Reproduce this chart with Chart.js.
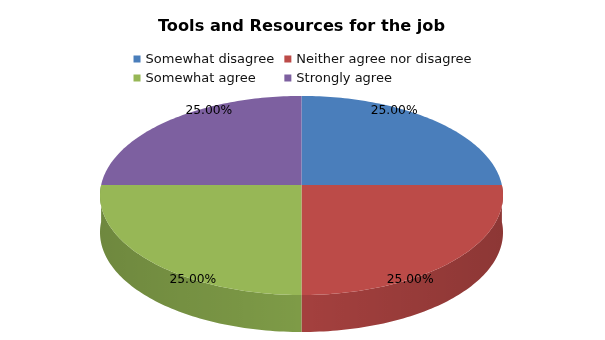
<!DOCTYPE html>
<html>
<head>
<meta charset="utf-8">
<script src="https://cdn.jsdelivr.net/npm/chart.js@4.4.1/dist/chart.umd.min.js"></script>
<style>
  html, body { margin: 0; padding: 0; background: #fff; }
  #wrap { width: 605px; height: 340px; }
</style>
</head>
<body>
<div id="wrap"><canvas id="chart"></canvas></div>
<script>
const chartTitle = 'Tools and Resources for the job';
const categories = ['Somewhat disagree', 'Neither agree nor disagree', 'Somewhat agree', 'Strongly agree'];
const responses = [1, 1, 1, 1];
const topColors = ['#4a7ebb', '#bc4b48', '#97b756', '#7d60a0'];
const sideColors = ['#3c6a9e', '#a4403e', '#7e9b47', '#674f86'];

const FONT = '"DejaVu Sans", Verdana, sans-serif';
const DEPTH = 37;       // thickness of the pie
const PERSP = 0.1055;   // front of the pie looks bigger than the back

// projection of the flat pie onto the page
function geom(chart) {
  const a = chart.chartArea;
  const cx = (a.left + a.right) / 2;
  const rx = (a.right - a.left) / 2 / Math.sqrt(1 / (1 - PERSP * PERSP));
  const h = a.bottom - DEPTH - a.top;
  const ay = h * (1 - PERSP * PERSP) / 2;
  const cy = a.top + ay / (1 + PERSP);
  return {
    cx, cy, rx, ay,
    pt(ang, k) {
      const u = k * Math.cos(ang), v = k * Math.sin(ang);
      const w = 1 / (1 - PERSP * v);
      return [cx + rx * u * w, cy + ay * v * w];
    }
  };
}

function arcPoints(g, a0, a1) {
  const pts = [];
  const n = Math.max(2, Math.ceil((a1 - a0) / 0.02));
  for (let i = 0; i <= n; i++) pts.push(g.pt(a0 + (a1 - a0) * i / n, 1));
  return pts;
}

const pie3d = {
  id: 'pie3d',
  beforeDatasetsDraw(chart) {
    const ctx = chart.ctx;
    const g = geom(chart);
    const arcs = chart.getDatasetMeta(0).data;

    // side walls (front half only)
    arcs.forEach((arc, i) => {
      const { startAngle, endAngle } = arc.getProps(['startAngle', 'endAngle'], true);
      [[0, Math.PI], [2 * Math.PI, 3 * Math.PI]].forEach(([lo, hi]) => {
        const a0 = Math.max(startAngle, lo), a1 = Math.min(endAngle, hi);
        if (a1 <= a0) return;
        const pts = arcPoints(g, a0, a1);
        ctx.beginPath();
        pts.forEach((p, j) => j ? ctx.lineTo(p[0], p[1]) : ctx.moveTo(p[0], p[1]));
        for (let j = pts.length - 1; j >= 0; j--) ctx.lineTo(pts[j][0], pts[j][1] + DEPTH);
        ctx.closePath();
        ctx.fillStyle = sideColors[i];
        ctx.fill();
        const grad = ctx.createLinearGradient(g.cx - g.rx, 0, g.cx + g.rx, 0);
        grad.addColorStop(0, 'rgba(0,0,0,0.12)');
        grad.addColorStop(0.5, 'rgba(0,0,0,0)');
        grad.addColorStop(1, 'rgba(0,0,0,0.14)');
        ctx.fillStyle = grad;
        ctx.fill();
      });
    });

    // top faces
    arcs.forEach((arc, i) => {
      const { startAngle, endAngle } = arc.getProps(['startAngle', 'endAngle'], true);
      const pts = arcPoints(g, startAngle, endAngle);
      const c = g.pt(0, 0);
      ctx.beginPath();
      ctx.moveTo(c[0], c[1]);
      pts.forEach(p => ctx.lineTo(p[0], p[1]));
      ctx.closePath();
      ctx.fillStyle = topColors[i];
      ctx.fill();
    });
    return false;
  },
  afterDraw(chart) {
    const ctx = chart.ctx;
    const g = geom(chart);
    const arcs = chart.getDatasetMeta(0).data;
    const total = responses.reduce((s, v) => s + v, 0);

    // percentage labels
    ctx.save();
    ctx.font = '12.3px ' + FONT;
    ctx.fillStyle = '#000';
    ctx.textAlign = 'center';
    ctx.textBaseline = 'middle';
    arcs.forEach((arc, i) => {
      const { startAngle, endAngle } = arc.getProps(['startAngle', 'endAngle'], true);
      const mid = (startAngle + endAngle) / 2;
      const front = Math.sin(mid) > 0;
      const x = g.cx + Math.cos(mid) * g.rx * (front ? 0.767 : 0.654);
      const y = g.cy + Math.sin(mid) * g.ay * (front ? 1.35 : 1.08);
      ctx.fillText((responses[i] / total * 100).toFixed(2) + '%', x, y + 0.5);
    });
    ctx.restore();

    // two column legend
    ctx.save();
    ctx.font = '13px ' + FONT;
    ctx.textBaseline = 'middle';
    const box = 7, gap = 5, colGap = 10;
    const tw = t => ctx.measureText(t).width;
    const col1 = box + gap + Math.max(tw(categories[0]), tw(categories[2]));
    const col2 = box + gap + Math.max(tw(categories[1]), tw(categories[3]));
    const x0 = (chart.width - (col1 + colGap + col2)) / 2;
    const rows = [59, 78];
    categories.forEach((label, i) => {
      const x = x0 + (i % 2 ? col1 + colGap : 0);
      const y = rows[Math.floor(i / 2)];
      ctx.fillStyle = topColors[i];
      ctx.fillRect(x, y - box / 2, box, box);
      ctx.fillStyle = '#111';
      ctx.fillText(label, x + box + gap, y + 0.5);
    });
    ctx.restore();
  }
};

new Chart(document.getElementById('chart'), {
  type: 'pie',
  data: {
    labels: categories,
    datasets: [{
      data: responses,
      backgroundColor: topColors,
      borderWidth: 0
    }]
  },
  options: {
    responsive: true,
    maintainAspectRatio: false,
    animation: false,
    layout: { padding: { left: 100, right: 102, top: 0, bottom: 8 } },
    plugins: {
      title: {
        display: true,
        text: chartTitle,
        color: '#000',
        font: { family: FONT, size: 16.2, weight: 'bold' },
        padding: { top: 17, bottom: 59.5 }
      },
      legend: { display: false },
      tooltip: { enabled: false }
    }
  },
  plugins: [pie3d]
});
</script>
</body>
</html>
